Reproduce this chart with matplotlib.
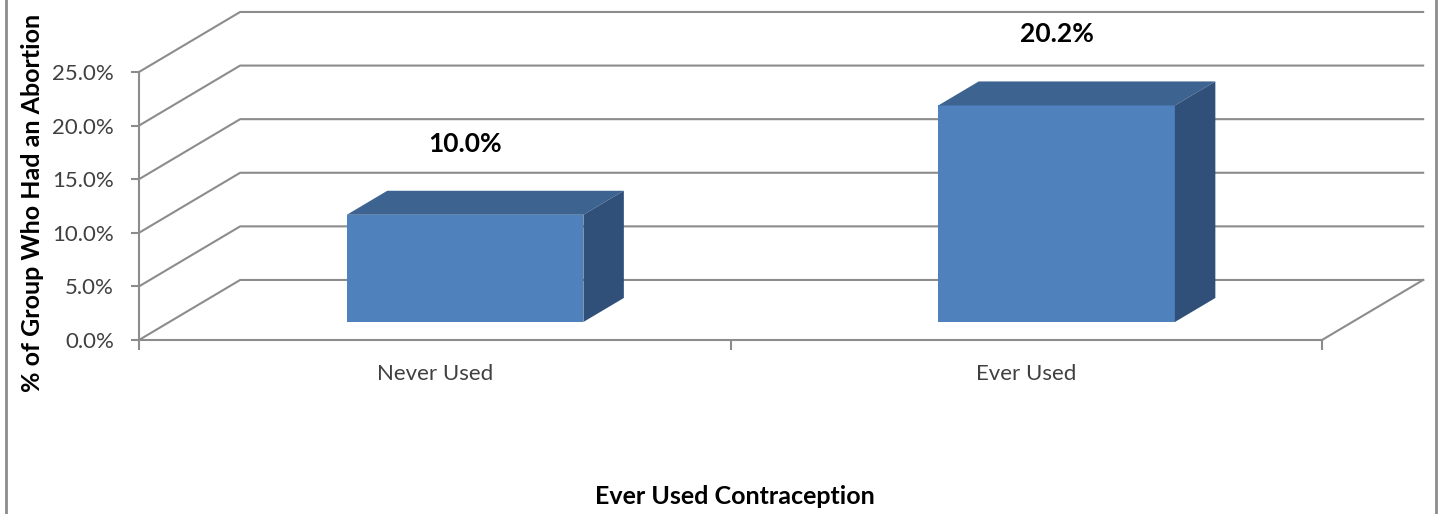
import matplotlib.pyplot as plt
from matplotlib.patches import Polygon
from matplotlib.lines import Line2D

plt.rcParams['font.family'] = ['Lato', 'DejaVu Sans']

categories = ["Never Used", "Ever Used"]
values = [10.0, 20.2]
y_ticks = [0, 5, 10, 15, 20, 25]

# fake 3d settings (in data units)
depth_x = 0.171
depth_y = 5.6
bar_width = 0.4
bar_front = 0.3
bar_back = 0.7

grid_color = '#8c8c8c'
front_color = '#4f81bd'
top_color = '#3d6491'
side_color = '#30507a'

fig = plt.figure(figsize=(14.39, 5.14), dpi=100)
ax = fig.add_axes([139 / 1439, 174 / 514, 1183 / 1439, 268 / 514])
ax.set_xlim(0, len(categories))
ax.set_ylim(0, 25)

for s in ['top', 'right']:
    ax.spines[s].set_visible(False)
for s in ['left', 'bottom']:
    ax.spines[s].set_color(grid_color)
    ax.spines[s].set_linewidth(1.5)

# walls / gridlines
for v in y_ticks:
    ax.plot([0, depth_x, len(categories) + depth_x], [v, v + depth_y, v + depth_y],
            color=grid_color, lw=1.5, clip_on=False, zorder=1)
# floor right edge
ax.plot([len(categories), len(categories) + depth_x], [0, depth_y],
        color=grid_color, lw=1.5, clip_on=False, zorder=1)

# bars
for i, v in enumerate(values):
    x0 = i + 0.5 - bar_width / 2 + bar_front * depth_x
    y0 = bar_front * depth_y
    x1 = x0 + bar_width
    ddx = (bar_back - bar_front) * depth_x
    ddy = (bar_back - bar_front) * depth_y
    front = Polygon([(x0, y0), (x1, y0), (x1, y0 + v), (x0, y0 + v)],
                    closed=True, facecolor=front_color, edgecolor='none', zorder=3)
    top = Polygon([(x0, y0 + v), (x1, y0 + v), (x1 + ddx, y0 + v + ddy), (x0 + ddx, y0 + v + ddy)],
                  closed=True, facecolor=top_color, edgecolor='none', zorder=3)
    side = Polygon([(x1, y0), (x1 + ddx, y0 + ddy), (x1 + ddx, y0 + v + ddy), (x1, y0 + v)],
                   closed=True, facecolor=side_color, edgecolor='none', zorder=3)
    for p in (front, top, side):
        p.set_clip_on(False)
        ax.add_patch(p)
    ax.text(x0 + bar_width / 2, y0 + v + ddy + 4.4, f"{v:.1f}%", ha='center', va='center',
            fontsize=19, fontweight='bold', color='black', zorder=4)

ax.set_yticks(y_ticks)
ax.set_yticklabels([f"{t:.1f}%" for t in y_ticks], fontsize=16, color='#404040')
ax.tick_params(axis='y', length=6, width=1.5, color=grid_color, pad=12)

ax.set_xticks(range(len(categories) + 1))
ax.set_xticklabels([])
ax.set_xticks([i + 0.5 for i in range(len(categories))], minor=True)
ax.set_xticklabels(categories, minor=True, fontsize=16, color='#404040')
ax.tick_params(axis='x', which='major', length=7, width=1.5, color=grid_color)
ax.tick_params(axis='x', which='minor', length=0, pad=17)

fig.text(735 / 1439, 1 - 497 / 514, "Ever Used Contraception", ha='center', va='center',
         fontsize=18, fontweight='bold')
fig.text(33 / 1439, 1 - 203 / 514, "% of Group Who Had an Abortion", ha='center', va='center',
         rotation=90, fontsize=18, fontweight='bold')

# chart border
fig.add_artist(Line2D([6 / 1439, 6 / 1439], [0, 1], color='#8c8c8c', lw=2))
fig.add_artist(Line2D([1436 / 1439, 1436 / 1439], [0, 1], color='#8c8c8c', lw=2))

plt.savefig('out.png', dpi=100, facecolor='w')
